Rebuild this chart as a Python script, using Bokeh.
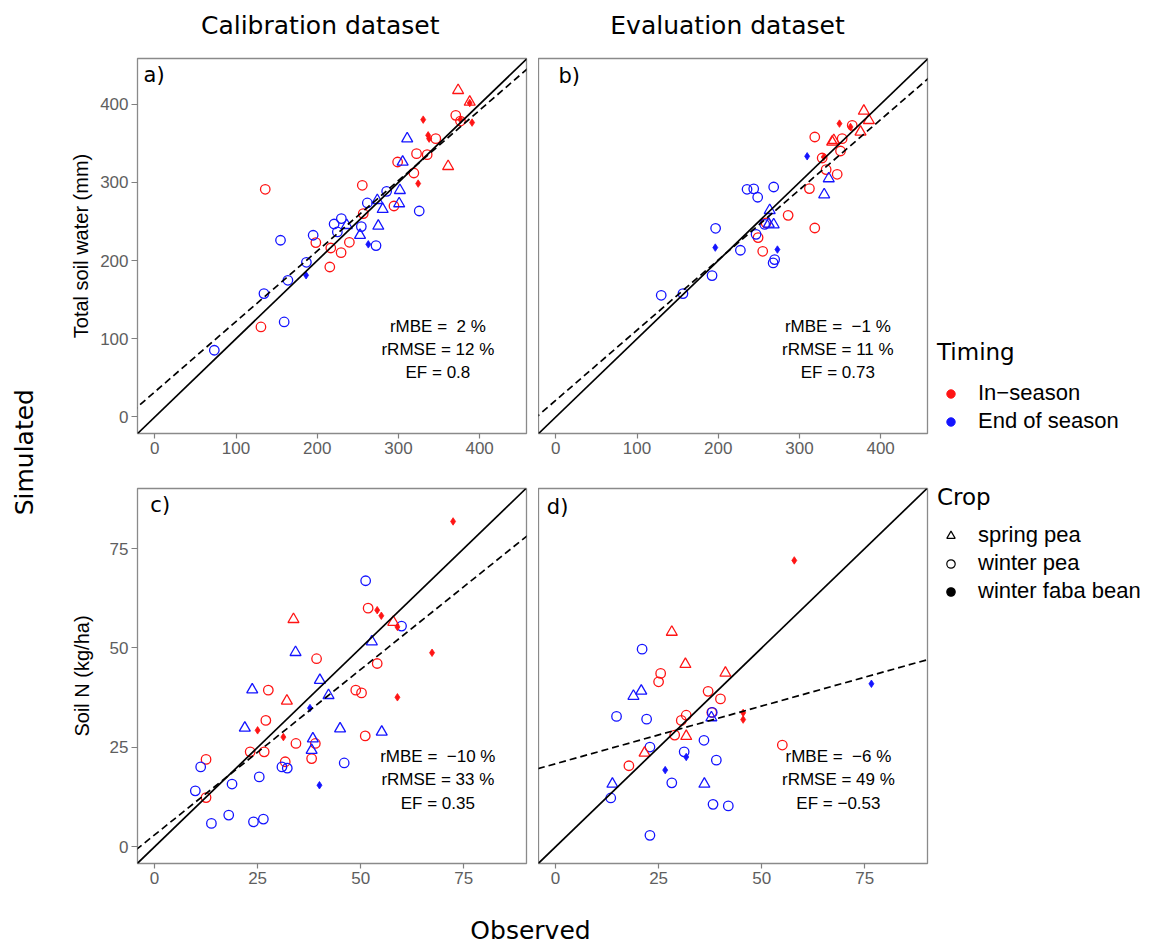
import math
from bokeh.plotting import figure
from bokeh.layouts import row, column
from bokeh.models import (ColumnDataSource, Range1d, FixedTicker, Slope, Label,
                          Legend, LegendItem)
from bokeh.embed import file_html
from bokeh.resources import INLINE

# ---------------------------------------------------------------- data
# timing codes: I = In-season, E = End of season
# crop codes:   S = spring pea, W = winter pea, F = winter faba bean

# panel a) total soil water, calibration
a_obs = [373.5, 387.8, 361.2,
         330.5, 336.6, 337.8, 390.7, 376.4, 324.3, 387.8,
         370.6, 376.4, 346.0, 322.3, 335.4, 299.0, 319.0, 255.5, 136.0, 256.7,
         294.5, 198.3, 216.7, 239.6, 229.4, 215.5, 130.7,
         310.8, 305.2, 301.8, 274.0, 280.6, 300.9, 275.2, 252.7, 236.4,
         285.5, 261.7, 325.6, 220.8, 229.7, 224.8, 254.3, 272.4, 195.0, 154.8,
         186.7, 163.9, 134.4, 159.3, 73.3,
         262.9, 186.3]
a_sim = [417.8, 402.8, 320.6,
         380.3, 360.2, 356.0, 376.5, 380.3, 298.5, 401.5,
         385.8, 378.5, 356.0, 336.8, 335.5, 326.1, 312.0, 296.3, 291.2, 260.1,
         269.8, 223.0, 216.1, 223.4, 210.2, 191.8, 115.1,
         356.0, 326.1, 289.9, 277.1, 265.6, 272.9, 244.2, 232.4, 245.1,
         288.6, 273.7, 263.4, 246.8, 253.7, 236.6, 243.5, 219.2, 232.4, 226.0,
         197.8, 174.8, 157.8, 121.5, 85.3,
         220.8, 181.2]
a_timing = list("III" "IIIIIII" "IIIIIIIIII" "IIIIIII"
                "EEEEEEEEE" "EEEEEEEEEE" "EEEEE" "EE")
a_crop = list("SSS" "FFFFFFF" "WWWWWWWWWW" "WWWWWWW"
              "SSSSSSSSS" "WWWWWWWWWW" "WWWWW" "FF")

# panel b) total soil water, evaluation
b_obs = [379.3, 385.5, 340.3, 342.3, 375.2,
         349.3, 362.9, 330.0,
         365.0, 318.9, 352.6, 328.0, 350.6, 332.9, 346.5, 312.3, 286.1, 318.9,
         249.1, 254.8, 258.9,
         336.1, 330.5, 263.4, 268.3, 262.2,
         235.5, 243.7, 248.6, 268.3, 196.8, 227.3, 246.6, 267.6, 269.5, 192.4,
         129.8, 156.6, 257.2,
         309.5, 196.4, 272.9]
b_sim = [391.3, 379.4, 351.7, 353.8, 364.5,
         375.2, 370.9, 332.5,
         373.0, 358.1, 356.0, 331.2, 340.2, 316.4, 310.4, 292.1, 257.9, 241.7,
         229.4, 211.9, 248.1,
         304.9, 284.4, 264.3, 246.0, 246.8,
         291.2, 291.8, 281.0, 294.1, 241.3, 213.2, 233.6, 197.0, 201.3, 180.8,
         155.6, 157.8, 246.4,
         333.4, 216.6, 214.1]
b_timing = list("IIIII" "III" "IIIIIIIIII" "III"
                "EEEEE" "EEEEEEEEEE" "EEE" "EEE")
b_crop = list("SSSSS" "FFF" "WWWWWWWWWW" "WWW"
              "SSSSS" "WWWWWWWWWW" "WWW" "FFF")

# panel c) soil N, calibration
c_obs = [72.4, 54.0, 55.0, 58.9, 67.3, 58.9, 25.0, 31.25,
         33.7, 57.9, 32.1,
         51.8, 39.3, 54.0, 48.8, 50.2, 27.6, 27.0, 51.1, 34.3, 39.0,
         23.2, 26.6, 38.1, 31.7, 12.5, 12.5,
         34.2, 52.7, 40.1, 42.2, 23.7, 21.9, 45.0, 55.1, 38.4, 38.1,
         51.2, 59.9, 11.2, 9.9, 18.8, 25.4, 30.9, 32.2, 46.0, 13.8,
         18.0, 24.0, 26.4,
         37.7, 40.0]
c_sim = [81.8, 59.5, 58.1, 55.3, 48.8, 37.6, 29.3, 27.6,
         57.2, 56.5, 36.7,
         60.0, 47.3, 46.1, 39.4, 38.7, 39.4, 31.8, 27.9, 26.0, 26.0,
         23.9, 23.9, 22.2, 21.4, 22.0, 12.4,
         48.9, 51.6, 41.9, 38.1, 39.5, 29.9, 29.7, 28.9, 27.2, 24.3,
         66.9, 55.5, 20.1, 14.1, 15.8, 17.6, 20.1, 19.8, 21.1, 5.9,
         8.0, 6.3, 7.0,
         34.9, 15.5]
c_timing = list("IIIIIIII" "III" "IIIIIIIIII" "IIIIII"
                "EEEEEEEEEE" "EEEEEEEEEE" "EEE" "EE")
c_crop = list("FFFFFFFF" "SSS" "WWWWWWWWWW" "WWWWWW"
              "SSSSSSSSSS" "WWWWWWWWWW" "WWW" "FF")

# panel d) soil N, evaluation
d_obs = [57.9, 45.5, 45.5,
         28.2, 31.5, 41.2, 31.7, 21.6,
         25.5, 25.0, 37.0, 40.0, 37.9, 31.7, 30.5, 28.9, 17.8, 55.0,
         20.8, 18.9, 37.8, 36.1, 13.8,
         21.0, 14.8, 22.1, 22.9, 31.2, 36.0, 39.0, 28.2, 13.4, 38.2,
         41.9, 22.9, 38.0,
         76.6, 26.6, 31.7]
d_sim = [72.0, 33.7, 32.0,
         54.0, 45.9, 43.7, 27.8, 23.6,
         43.6, 41.5, 39.1, 37.2, 33.8, 33.1, 31.8, 28.1, 20.4, 25.6,
         39.2, 37.9, 32.5, 15.8, 15.8,
         49.7, 32.8, 32.1, 25.1, 23.9, 26.8, 21.8, 16.1, 12.3, 10.7,
         10.3, 2.9, 33.8,
         41.0, 19.3, 22.6]
d_timing = list("III" "IIIII" "IIIIIIIIII"
                "EEEEE" "EEEEEEEEEE" "EEE" "EEE")
d_crop = list("FFF" "SSSSS" "WWWWWWWWWW"
              "SSSSS" "WWWWWWWWWW" "WWW" "FFF")

# regression lines (intercept, slope) of simulated on observed
reg_a = (32.0, 0.901)
reg_b = (21.3, 0.8975)
reg_c = (3.0, 0.832)
reg_d = (20.9, 0.29)

# goodness-of-fit texts
stats_a = ["rMBE = \u00a02 %", "rRMSE = 12 %", "EF = 0.8"]
stats_b = ["rMBE = \u00a0\u22121 %", "rRMSE = 11 %", "EF = 0.73"]
stats_c = ["rMBE = \u00a0\u221210 %", "rRMSE = 33 %", "EF = 0.35"]
stats_d = ["rMBE = \u00a0\u22126 %", "rRMSE = 49 %", "EF = \u22120.53"]

water_ticks = [0, 100, 200, 300, 400]
nitrogen_ticks = [0, 25, 50, 75]
timing_labels = {"I": "In\u2212season", "E": "End of season"}
crop_labels = {"S": "spring pea", "W": "winter pea", "F": "winter faba bean"}

for o, s, t, c in [(a_obs, a_sim, a_timing, a_crop), (b_obs, b_sim, b_timing, b_crop),
                   (c_obs, c_sim, c_timing, c_crop), (d_obs, d_sim, d_timing, d_crop)]:
    assert len(o) == len(s) == len(t) == len(c), (len(o), len(s), len(t), len(c))

# ---------------------------------------------------------------- style
RED = "#ff1414"
BLUE = "#1414ff"
COLOURS = {"I": RED, "E": BLUE}
TICK_FONT = "Liberation Sans"
TITLE_FONT = "DejaVu Sans"
FRAME_W, FRAME_H = 389, 375

MARKERS = {
    "W": dict(marker="circle", size=9.5, line_width=1.3),
    "S": dict(marker="triangle", size=11, line_width=1.3),
    "F": dict(marker="diamond", size=7.5, line_width=0.8),
}


def subset(obs, sim, timing, crop, t=None, c=None):
    idx = [i for i in range(len(obs))
           if (t is None or timing[i] == t) and (c is None or crop[i] == c)]
    return ColumnDataSource(dict(x=[obs[i] for i in idx], y=[sim[i] for i in idx]))


def style_axis(ax, ticks):
    ax.ticker = FixedTicker(ticks=ticks)
    ax.axis_line_color = None
    ax.major_tick_line_color = "#808080"
    ax.major_tick_line_width = 1.2
    ax.major_tick_in = 0
    ax.minor_tick_line_color = None
    ax.major_label_text_font = TICK_FONT
    ax.major_label_text_font_size = "17px"
    ax.major_label_text_color = "#5e5e5e"
    ax.major_label_standoff = 3


def make_panel(obs, sim, timing, crop, rng_x, rng_y, ticks, reg, stats, letter,
               letter_xy, stats_x, stats_y, left_axis, ylabel, label_standoff,
               borders):
    p = figure(frame_width=FRAME_W, frame_height=FRAME_H,
               x_range=Range1d(*rng_x), y_range=Range1d(*rng_y),
               output_backend="svg", toolbar_location=None, title=None,
               x_axis_location="below",
               y_axis_location="left" if left_axis else None,
               min_border_left=borders[0], min_border_right=borders[1],
               min_border_top=borders[2], min_border_bottom=borders[3])
    p.grid.visible = False
    p.outline_line_color = "#8a8a8a"
    p.outline_line_width = 1.3
    p.background_fill_color = "white"
    p.border_fill_color = "white"

    style_axis(p.xaxis[0], ticks)
    p.xaxis[0].major_tick_out = 5
    if left_axis:
        ya = p.yaxis[0]
        style_axis(ya, ticks)
        ya.major_tick_out = 6
        ya.axis_label = ylabel
        ya.axis_label_text_font = TICK_FONT
        ya.axis_label_text_font_size = "20px"
        ya.axis_label_text_font_style = "normal"
        ya.axis_label_text_color = "black"
        ya.axis_label_standoff = label_standoff

    # points
    for c in ["W", "S", "F"]:
        for t in ["I", "E"]:
            src = subset(obs, sim, timing, crop, t, c)
            m = MARKERS[c]
            p.scatter(x="x", y="y", source=src, marker=m["marker"], size=m["size"],
                      line_color=COLOURS[t], line_width=m["line_width"],
                      fill_color=COLOURS[t] if c == "F" else None)

    # 1:1 line and regression line
    p.add_layout(Slope(gradient=1, y_intercept=0, line_color="black", line_width=1.7))
    p.add_layout(Slope(gradient=reg[1], y_intercept=reg[0], line_color="black",
                       line_width=1.7, line_dash="7 4"))

    p.add_layout(Label(x=letter_xy[0], y=letter_xy[1], text=letter,
                       text_font=TITLE_FONT, text_font_size="21px",
                       text_align="left", text_baseline="middle", text_color="black"))
    for s, yy in zip(stats, stats_y):
        p.add_layout(Label(x=stats_x, y=yy, text=s, text_font=TICK_FONT,
                           text_font_size="17px", text_align="center",
                           text_baseline="middle", text_color="black"))
    return p


W_RANGE_X = (-21.3, 457.7)
W_RANGE_Y = (-21.2, 458.5)
N_RANGE_X = (-4.12, 90.2)
N_RANGE_Y = (-4.17, 90.08)

pA = make_panel(a_obs, a_sim, a_timing, a_crop, W_RANGE_X, W_RANGE_Y, water_ticks,
                reg_a, stats_a, "a)", (-13.9, 437.0), 348.6, [115.1, 86.2, 56.3],
                True, "Total soil water (mm)", 5, (77, 12, 18, 32))
pB = make_panel(b_obs, b_sim, b_timing, b_crop, W_RANGE_X, W_RANGE_Y, water_ticks,
                reg_b, stats_b, "b)", (3.3, 436.0), 347.3, [115.1, 86.2, 56.3],
                False, None, 0, (0, 224, 18, 32))
pC = make_panel(c_obs, c_sim, c_timing, c_crop, N_RANGE_X, N_RANGE_Y, nitrogen_ticks,
                reg_c, stats_c, "c)", (-1.0, 85.9), 68.7, [22.7, 16.9, 11.0],
                True, "Soil N (kg/ha)", 14, (77, 12, 23, 40))
pD = make_panel(d_obs, d_sim, d_timing, d_crop, N_RANGE_X, N_RANGE_Y, nitrogen_ticks,
                reg_d, stats_d, "d)", (-2.1, 85.5), 68.6, [22.7, 16.9, 11.0],
                False, None, 0, (0, 224, 23, 40))

# ---------------------------------------------------------------- legends
leg_style = dict(title_text_font=TITLE_FONT, title_text_font_size="23px",
                 title_text_font_style="normal", title_text_color="black",
                 label_text_font=TICK_FONT, label_text_font_size="22px",
                 label_text_color="black", label_standoff=14, label_height=25,
                 glyph_height=21, glyph_width=27, spacing=2, padding=0, margin=0,
                 border_line_color=None, background_fill_alpha=0)

timing_items = []
for t in ["I", "E"]:
    r = pB.scatter(x="x", y="y", source=subset(b_obs, b_sim, b_timing, b_crop, t=t),
                   marker="circle", size=8, fill_color=COLOURS[t],
                   line_color=COLOURS[t], visible=False)
    timing_items.append(LegendItem(label=timing_labels[t], renderers=[r]))
pB.add_layout(Legend(items=timing_items, title="Timing", location=(10, -1),
                     title_standoff=15, **leg_style), "right")

crop_items = []
for c in ["S", "W", "F"]:
    r = pD.scatter(x="x", y="y", source=subset(d_obs, d_sim, d_timing, d_crop, c=c),
                   marker="circle" if c != "S" else "triangle", size=8,
                   fill_color="black" if c == "F" else None,
                   line_color="black", line_width=1.2, visible=False)
    crop_items.append(LegendItem(label=crop_labels[c], renderers=[r]))
pD.add_layout(Legend(items=crop_items, title="Crop", location=(10, 259),
                     title_standoff=12, **leg_style), "right")

# ---------------------------------------------------------------- titles


def text_canvas(w, h):
    f = figure(width=w, height=h, x_range=Range1d(0, w), y_range=Range1d(0, h),
               output_backend="svg", toolbar_location=None, title=None,
               x_axis_location=None, y_axis_location=None,
               min_border_left=0, min_border_right=0, min_border_top=0,
               min_border_bottom=0)
    f.grid.visible = False
    f.outline_line_color = None
    f.background_fill_color = "white"
    f.border_fill_color = "white"
    return f


pT = text_canvas(1091, 40)
pT.add_layout(Label(x=259.7, y=14.7, text="Calibration dataset", text_font=TITLE_FONT,
                    text_font_size="25px", text_align="center",
                    text_baseline="alphabetic", text_color="black"))
pT.add_layout(Label(x=667.0, y=14.7, text="Evaluation dataset", text_font=TITLE_FONT,
                    text_font_size="25px", text_align="center",
                    text_baseline="alphabetic", text_color="black"))

pO = text_canvas(1091, 44)
pO.add_layout(Label(x=470.0, y=16.7, text="Observed", text_font=TITLE_FONT,
                    text_font_size="25px", text_align="center",
                    text_baseline="alphabetic", text_color="black"))

pS = text_canvas(60, 947)
pS.add_layout(Label(x=23.8, y=495.3, text="Simulated", text_font=TITLE_FONT,
                    text_font_size="25px", text_align="center",
                    text_baseline="alphabetic", angle=math.pi / 2,
                    text_color="black"))

layout = row(pS, column(pT, row(pA, pB), row(pC, pD), pO))

with open("out.html", "w") as fh:
    fh.write(file_html(layout, INLINE))
